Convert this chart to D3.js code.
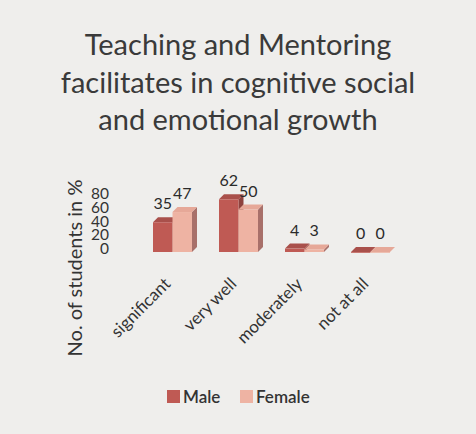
<!DOCTYPE html>
<html><head><meta charset="utf-8">
<script src="https://cdn.jsdelivr.net/npm/d3@7"></script>
<style>body{margin:0;background:#efeeec;}svg{display:block;}</style>
</head><body>
<svg id="c" width="476" height="434"></svg>
<script>
const categories = ["significant", "very well", "moderately", "not at all"];
const seriesNames = ["Male", "Female"];
const maleValues = [35, 62, 4, 0];
const femaleValues = [47, 50, 3, 0];
const tickValues = [0, 20, 40, 60, 80];
const titleLines = ["Teaching and Mentoring", "facilitates in cognitive social", "and emotional growth"];

const font = "Lato, 'Open Sans', sans-serif";
const svg = d3.select("#c");
svg.append("rect").attr("width", 476).attr("height", 434).attr("fill", "#efeeec");

// title
svg.append("g").selectAll("text").data(titleLines).join("text")
  .attr("x", 238).attr("y", (d, i) => 55 + i * 37.5)
  .attr("text-anchor", "middle").attr("font-family", font).attr("font-size", 29)
  .attr("fill", "#3a3a3a").text(d => d);

// scales
const x = d3.scaleBand().domain(categories).range([139.5, 403.5]).paddingInner(0).paddingOuter(0);
const xs = d3.scaleBand().domain(seriesNames).range([0, 39]);
const yAxisScale = d3.scaleLinear().domain([0, 80]).range([248, 193]);
const yBar = d3.scaleLinear().domain([0, 80]).range([252, 184]);

// axis (labels only)
const axis = d3.axisLeft(yAxisScale).tickValues(tickValues).tickSize(0).tickPadding(0);
const ag = svg.append("g").attr("transform", "translate(109,0)").call(axis);
ag.select(".domain").remove();
ag.selectAll("text").attr("font-family", font).attr("font-size", 15.5).attr("fill", "#333").attr("dy", "0.36em");

// y title
svg.append("text").attr("transform", "translate(82,268) rotate(-90)")
  .attr("text-anchor", "middle").attr("font-family", font).attr("font-size", 20)
  .attr("fill", "#333").text("No. of students in %");

const colors = {
  Male: {front: "#bf5a54", top: "#a9504b", side: "#8e423e"},
  Female: {front: "#eeb3a3", top: "#e6a898", side: "#a8706a"}
};
const dx = 5, dy = -5;
const data = [];
categories.forEach((c, i) => {
  data.push({cat: c, s: "Male", v: maleValues[i]});
  data.push({cat: c, s: "Female", v: femaleValues[i]});
});

const bars = svg.append("g");
data.forEach(d => {
  const x0 = x(d.cat) + (x.bandwidth() - 39) / 2 + xs(d.s);
  const w = xs.bandwidth();
  const yt = yBar(d.v), yb = yBar(0);
  const col = colors[d.s];
  const g = bars.append("g");
  g.append("path").attr("d", `M${x0 + w},${yb} L${x0 + w + dx},${yb + dy} L${x0 + w + dx},${yt + dy} L${x0 + w},${yt} Z`).attr("fill", col.side);
  g.append("path").attr("d", `M${x0},${yt} L${x0 + dx},${yt + dy} L${x0 + w + dx},${yt + dy} L${x0 + w},${yt} Z`).attr("fill", col.top);
  g.append("rect").attr("x", x0).attr("y", yt).attr("width", w).attr("height", Math.max(0.8, yb - yt)).attr("fill", col.front);
  svg.append("text").attr("x", x0 + w / 2).attr("y", yt - 13)
    .attr("text-anchor", "middle").attr("font-family", font).attr("font-size", 16)
    .attr("fill", "#2a2a2a").text(d.v);
});

// category labels
svg.append("g").selectAll("text").data(categories).join("text")
  .attr("transform", d => `translate(${x(d) + x.bandwidth() / 2 - 1},285) rotate(-45)`)
  .attr("text-anchor", "end").attr("font-family", font).attr("font-size", 17)
  .attr("fill", "#333").text(d => d);

// legend
const legend = [{n: "Male", x: 167}, {n: "Female", x: 240}];
legend.forEach(l => {
  svg.append("rect").attr("x", l.x).attr("y", 390).attr("width", 13).attr("height", 13).attr("fill", colors[l.n].front);
  svg.append("text").attr("x", l.x + 16).attr("y", 403).attr("font-family", font).attr("font-size", 17)
    .attr("font-weight", 600).attr("fill", "#333").text(l.n);
});
</script>
</body></html>
